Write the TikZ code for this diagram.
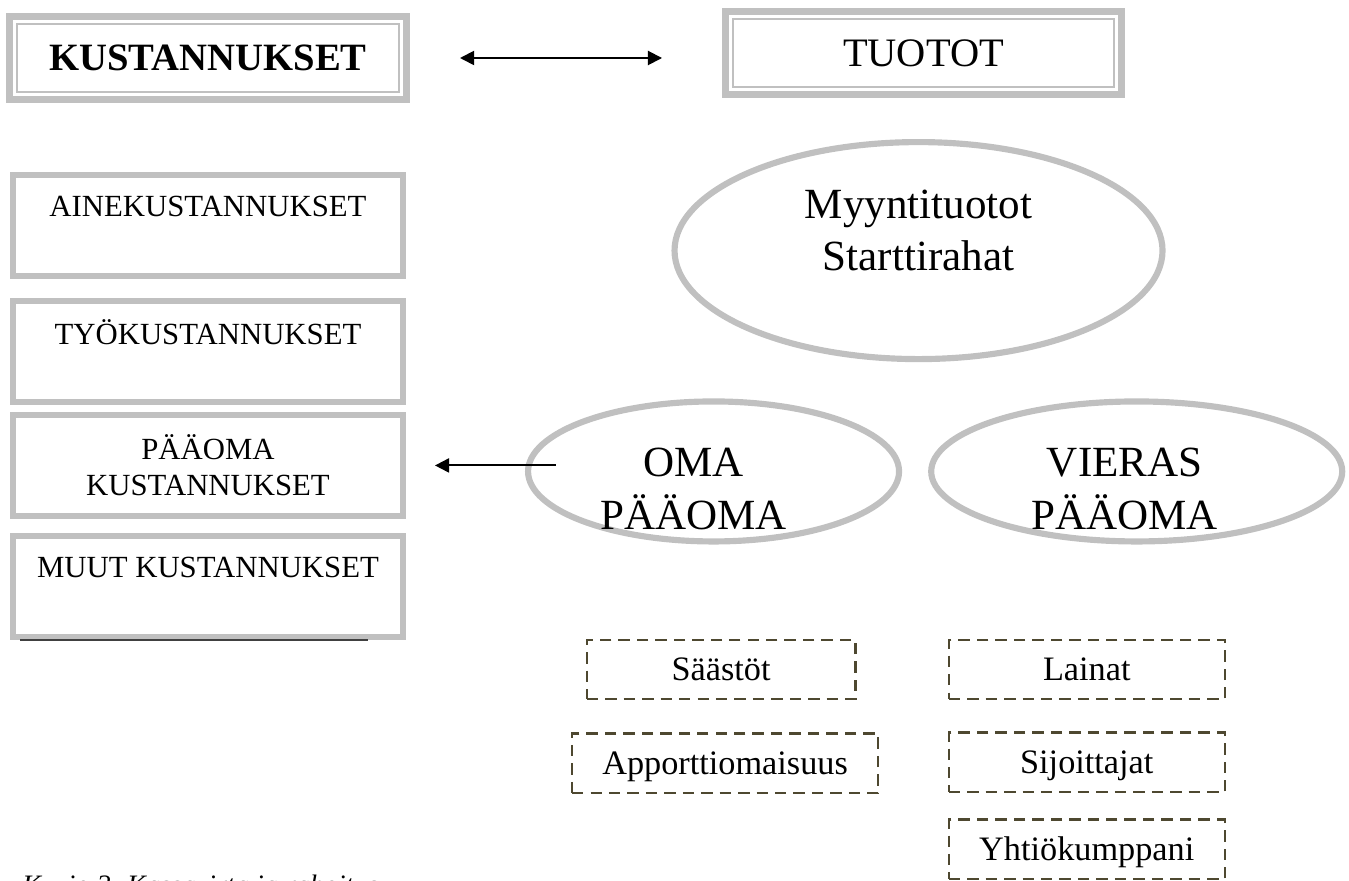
\documentclass[tikz,border=0pt]{standalone}
\usepackage{fontspec}
\setmainfont{Liberation Serif}
\usetikzlibrary{positioning, arrows.meta, shapes.geometric}
\definecolor{boxgray}{RGB}{192,192,192}
\definecolor{dashbrown}{RGB}{78,72,48}
\newcommand{\ovalfont}{\fontsize{24.5}{30}\selectfont}
\tikzstyle{headbox} = [rectangle, draw=boxgray, line width=4pt, minimum width=7.94cm, minimum height=1.66cm, font=\fontsize{22}{26}\selectfont\bfseries,
  path picture={\draw[boxgray, line width=1.3pt] ([shift={(4.4pt,4.4pt)}]path picture bounding box.south west) rectangle ([shift={(-4.4pt,-4.4pt)}]path picture bounding box.north east);}]
\tikzstyle{costbox} = [rectangle, draw=boxgray, line width=3.4pt, minimum width=7.8cm, minimum height=2.02cm, align=center, font=\fontsize{17.5}{20.5}\selectfont]
\tikzstyle{income} = [ellipse, draw=boxgray, line width=3.5pt, inner sep=0pt]
\tikzstyle{source} = [rectangle, draw=dashbrown, line width=1.4pt, dash pattern=on 6.5pt off 4pt, minimum height=1.19cm, text height=13pt, text depth=0pt, font=\fontsize{19.5}{23}\selectfont]
\tikzstyle{arrow} = [line width=1.1pt, ->, >={Triangle[length=8pt, width=8pt]}]

\begin{document}
\begin{tikzpicture}
  \clip (0,0) rectangle (26.98,-17.62);

  % Headings
  \node (kust) [headbox] at (4.16,-1.16) {KUSTANNUKSET};
  \node (tuotot) [headbox, minimum width=7.92cm, font=\fontsize{23}{26}\selectfont, right=6.24cm of kust, yshift=0.1cm] {TUOTOT};

  % Costs (left column)
  \node (ainek) [costbox, below=1.38cm of kust] {AINEKUSTANNUKSET\\[1.5pt]\mbox{}};
  \node (tyok) [costbox, below=0.38cm of ainek] {TYÖKUSTANNUKSET\\[1.5pt]\mbox{}};
  \node (paaoma) [costbox, below=0.14cm of tyok] {PÄÄOMA\\KUSTANNUKSET};
  \node (muut) [costbox, below=0.28cm of paaoma] {MUUT KUSTANNUKSET\\[1.5pt]\mbox{}};

  % Income and capital
  \node (myynti) [income, minimum width=9.76cm, minimum height=4.34cm, below=0.82cm of tuotot, xshift=-0.1cm,
    label={[align=center, font=\ovalfont, yshift=0.4cm]center:Myyntituotot\\Starttirahat}] {};
  \node (oma) [income, minimum width=7.42cm, minimum height=2.8cm, right=2.38cm of paaoma, yshift=-0.12cm,
    label={[align=center, font=\ovalfont, xshift=-0.4cm, yshift=-0.35cm]center:OMA\\PÄÄOMA}] {};
  \node (vieras) [income, minimum width=8.22cm, minimum height=2.8cm, right=0.52cm of oma,
    label={[align=center, font=\ovalfont, xshift=-0.24cm, yshift=-0.35cm]center:VIERAS\\PÄÄOMA}] {};

  % Capital sources
  \node (saastot) [source, minimum width=5.37cm, below=1.88cm of oma, xshift=0.15cm] {Säästöt};
  \node (apport) [source, minimum width=6.12cm, below=0.64cm of saastot, xshift=0.08cm] {Apporttiomaisuus};
  \node (lainat) [source, minimum width=5.52cm, right=1.82cm of saastot] {Lainat};
  \node (sijoit) [source, minimum width=5.52cm, below=0.62cm of lainat] {Sijoittajat};
  \node (yhtio) [source, minimum width=5.52cm, below=0.5cm of sijoit] {Yhtiökumppani};

  % Caption
  \node (caption) [anchor=north west, inner sep=0pt, font=\fontsize{16}{19}\selectfont\itshape] at (0.44,-17.5) {Kuvio 2. Kassavirta ja rahoitus};

  % Arrows
  \draw[arrow, <->, shorten <=1.0cm, shorten >=1.2cm] (kust.east) -- (tuotot.west |- kust.east);
  \draw[arrow, shorten <=-0.62cm, shorten >=0.58cm] (oma.west |- paaoma.east) -- (paaoma.east);

  \draw[black!75, line width=0.8pt] ([xshift=0.2cm]muut.south west) -- ([xshift=-0.76cm]muut.south east);

\end{tikzpicture}
\end{document}
